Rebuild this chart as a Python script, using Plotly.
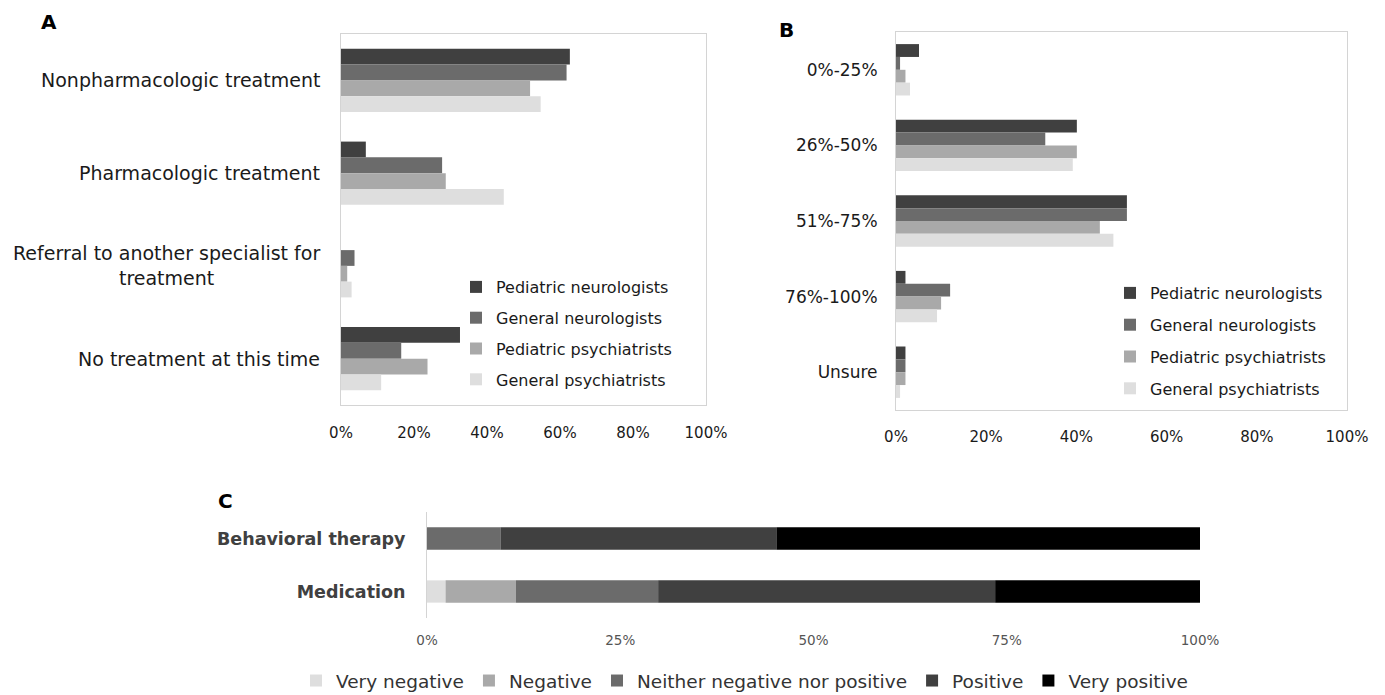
import numpy as np
import plotly.graph_objects as go

W, H = 1385, 695

# Respondent groups shared by panels A and B
groups = ["Pediatric neurologists", "General neurologists",
          "Pediatric psychiatrists", "General psychiatrists"]
group_colors = ["#404040", "#6b6b6b", "#a9a9a9", "#dedede"]

# Panel A: preferred first-line approach (% of respondents)
a_categories = ["Nonpharmacologic treatment", "Pharmacologic treatment",
                "Referral to another specialist for<br>treatment",
                "No treatment at this time"]
a_ped_neuro = [62.7, 6.8, 0.0, 32.6]
a_gen_neuro = [61.8, 27.7, 3.7, 16.5]
a_ped_psych = [51.8, 28.7, 1.7, 23.7]
a_gen_psych = [54.7, 44.6, 2.9, 11.0]

# Panel B: estimated share of patients (% of respondents)
b_categories = ["0%-25%", "26%-50%", "51%-75%", "76%-100%", "Unsure"]
b_ped_neuro = [5.1, 40.1, 51.2, 2.1, 2.1]
b_gen_neuro = [0.9, 33.1, 51.2, 12.0, 2.1]
b_ped_psych = [2.1, 40.1, 45.2, 10.0, 2.1]
b_gen_psych = [3.1, 39.2, 48.2, 9.1, 0.9]

# Panel C: attitudes toward treatment options (% of respondents)
c_categories = ["Behavioral therapy", "Medication"]
c_levels = ["Very negative", "Negative", "Neither negative nor positive",
            "Positive", "Very positive"]
c_level_colors = ["#dedede", "#a9a9a9", "#6b6b6b", "#404040", "#000000"]
c_very_negative = [0.0, 2.4]
c_negative = [0.0, 9.1]
c_neither = [9.5, 18.4]
c_positive = [35.7, 43.6]
c_very_positive = [54.8, 26.5]

ab_ticks = [0, 20, 40, 60, 80, 100]
c_ticks = [0, 25, 50, 75, 100]

FONT = "DejaVu Sans"
TXT = "#1a1a1a"


def px_x(v):
    return v / W


def px_y(v):
    return 1 - v / H


def pct(ticks):
    return [f"{t}%" for t in ticks]


fig = go.Figure()

a_series = [a_ped_neuro, a_gen_neuro, a_ped_psych, a_gen_psych]
for name, color, vals in zip(groups, group_colors, a_series):
    fig.add_trace(go.Bar(
        x=vals, y=a_categories, orientation="h", name=name,
        marker=dict(color=color, line=dict(width=0)),
        xaxis="x", yaxis="y", legend="legend", legendgroup="a_" + name,
    ))

b_series = [b_ped_neuro, b_gen_neuro, b_ped_psych, b_gen_psych]
for name, color, vals in zip(groups, group_colors, b_series):
    fig.add_trace(go.Bar(
        x=vals, y=b_categories, orientation="h", name=name,
        marker=dict(color=color, line=dict(width=0)),
        xaxis="x2", yaxis="y2", legend="legend2", legendgroup="b_" + name,
    ))

# Stacked bars for panel C: one shared offset group, explicit cumulative bases
c_series = [c_very_negative, c_negative, c_neither, c_positive, c_very_positive]
c_base = np.zeros(len(c_categories))
for name, color, vals in zip(c_levels, c_level_colors, c_series):
    fig.add_trace(go.Bar(
        x=vals, y=c_categories, base=c_base.copy(), orientation="h", name=name,
        marker=dict(color=color, line=dict(width=0)),
        offsetgroup="c", width=0.42,
        xaxis="x3", yaxis="y3", legend="legend3",
    ))
    c_base = c_base + np.array(vals)

box = dict(showline=True, linecolor="#d4d4d4", linewidth=1, mirror=True,
           automargin=False)

fig.update_layout(
    template="none",
    width=W, height=H,
    margin=dict(l=0, r=0, t=0, b=0, autoexpand=False),
    paper_bgcolor="white", plot_bgcolor="white",
    font=dict(family=FONT, color=TXT),
    barmode="group", bargap=0.32, bargroupgap=0,
    showlegend=True,
    xaxis=dict(domain=[px_x(341), px_x(706)], anchor="y", range=[0, 100],
               tickvals=ab_ticks, ticktext=pct(ab_ticks), ticks="",
               showgrid=False, zeroline=False,
               tickfont=dict(size=15, color=TXT), ticklabelstandoff=14, **box),
    yaxis=dict(domain=[px_y(405), px_y(34)], anchor="x", type="category",
               range=[3.5, -0.5], showticklabels=False, ticks="",
               showgrid=False, **box),
    xaxis2=dict(domain=[px_x(896), px_x(1347)], anchor="y2", range=[0, 100],
                tickvals=ab_ticks, ticktext=pct(ab_ticks), ticks="",
                showgrid=False, zeroline=False,
                tickfont=dict(size=15, color=TXT), ticklabelstandoff=13, **box),
    yaxis2=dict(domain=[px_y(410), px_y(32)], anchor="x2", type="category",
                range=[4.5, -0.5], showgrid=False, ticks="", ticklabelstandoff=14,
                tickfont=dict(size=17, color=TXT), **box),
    xaxis3=dict(domain=[px_x(427), px_x(1200)], anchor="y3", range=[0, 100],
                tickvals=c_ticks, ticktext=pct(c_ticks), ticks="",
                showgrid=False, zeroline=False, automargin=False,
                showline=False, tickfont=dict(size=13.5, color="#555555"),
                ticklabelstandoff=12),
    yaxis3=dict(domain=[px_y(618), px_y(512)], anchor="x3", type="category",
                range=[1.5, -0.5], showgrid=False, showline=True, ticks="",
                automargin=False, zeroline=False,
                linecolor="#d4d4d4", linewidth=1, ticklabelstandoff=17,
                tickfont=dict(size=17.5, color="#404040", weight="bold")),
    legend=dict(x=px_x(456), y=px_y(270), xanchor="left", yanchor="top",
                bgcolor="rgba(0,0,0,0)", font=dict(size=16, color=TXT),
                traceorder="grouped", tracegroupgap=7),
    legend2=dict(x=px_x(1110), y=px_y(276), xanchor="left", yanchor="top",
                 bgcolor="rgba(0,0,0,0)", font=dict(size=16, color=TXT),
                 traceorder="grouped", tracegroupgap=8),
    legend3=dict(orientation="h", x=px_x(296), y=px_y(662), xanchor="left",
                 yanchor="top", bgcolor="rgba(0,0,0,0)",
                 font=dict(size=18.5, color="#333333")),
)

# Category labels for panel A, centred on each line like the source layout
for cat in a_categories:
    fig.add_annotation(x=px_x(322), y=cat, xref="paper", yref="y",
                       text=cat, showarrow=False, xanchor="right", align="center",
                       font=dict(size=19, color=TXT))

# Panel letters
for letter, lx, ly in [("A", 49, 22), ("B", 786, 30), ("C", 225, 501)]:
    fig.add_annotation(x=px_x(lx), y=px_y(ly), xref="paper", yref="paper",
                       text="<b>" + letter + "</b>", showarrow=False,
                       xanchor="center", yanchor="middle",
                       font=dict(size=20, color="#000000"))

fig.write_html("out.html")
